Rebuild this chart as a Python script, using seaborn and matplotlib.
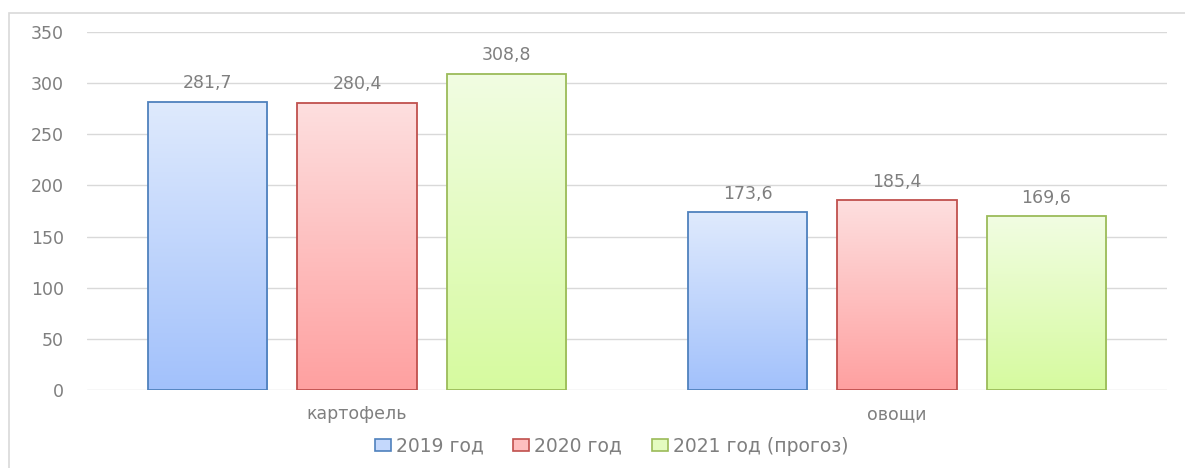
import numpy as np
import pandas as pd
import matplotlib
matplotlib.use("Agg")
import matplotlib.pyplot as plt
import seaborn as sns
from matplotlib.colors import LinearSegmentedColormap
from matplotlib.patches import Rectangle

# Data
categories = ['картофель', 'овощи']
years = ['2019 год', '2020 год', '2021 год (прогоз)']
values_2019 = [281.7, 173.6]
values_2020 = [280.4, 185.4]
values_2021 = [308.8, 169.6]
y_ticks = [0, 50, 100, 150, 200, 250, 300, 350]

# gradient top / bottom colours and edges per series
grad_top = ['#dfeafd', '#fddfdf', '#f1fde2']
grad_bottom = ['#a2c1fb', '#ffa0a0', '#d6fa9f']
legend_fill = ['#c4d8fc', '#febfbf', '#e4fbc0']
edge_colors = ['#4f81bd', '#c0504d', '#9bbb59']
text_grey = '#7f7f7f'

df = pd.DataFrame({
    'category': categories * 3,
    'year': [years[0]] * 2 + [years[1]] * 2 + [years[2]] * 2,
    'value': values_2019 + values_2020 + values_2021,
})

sns.set_style("white")
plt.rcParams['font.family'] = ['DejaVu Sans']

fig = plt.figure(figsize=(11.85, 4.68), dpi=100)
ax = fig.add_axes([87 / 1185, 0.1667, 1080 / 1185, 0.765])

sns.barplot(data=df, x='category', y='value', hue='year', hue_order=years,
            palette=grad_bottom, width=0.83, gap=0.2, ax=ax, legend=False,
            errorbar=None, zorder=3)

ax.set_ylim(0, 350)
ax.set_yticks(y_ticks)
ax.yaxis.grid(True, color='#d9d9d9', linewidth=1.0, zorder=0)
ax.set_axisbelow(True)
for s in ax.spines.values():
    s.set_visible(False)
ax.set_xlabel('')
ax.set_ylabel('')
ax.tick_params(axis='both', length=0, labelsize=12.5, colors=text_grey)
ax.tick_params(axis='y', pad=16.5)
ax.tick_params(axis='x', pad=11)

# gradient fill over each bar
for i, container in enumerate(ax.containers):
    cmap = LinearSegmentedColormap.from_list('g%d' % i, [grad_bottom[i], grad_top[i]])
    for patch in container.patches:
        x0, y0 = patch.get_x(), patch.get_y()
        w, h = patch.get_width(), patch.get_height()
        grad = np.linspace(0, 1, 256).reshape(-1, 1)
        im = ax.imshow(grad, cmap=cmap, origin='lower', aspect='auto',
                       extent=[x0, x0 + w, y0, y0 + h], zorder=3.5)
        im.set_clip_path(patch)
        patch.set_edgecolor(edge_colors[i])
        patch.set_linewidth(1.3)
        patch.set_zorder(4)
        patch.set_facecolor('none')
    labels = [f"{v:.1f}".replace('.', ',') for v in container.datavalues]
    ax.bar_label(container, labels=labels, padding=7, fontsize=12.5, color=text_grey)

ax.set_xlim(-0.5, 1.5)
ax.set_ylim(0, 350)

# legend
handles = [Rectangle((0, 0), 1, 1, facecolor=legend_fill[i], edgecolor=edge_colors[i], linewidth=1.2)
           for i in range(3)]
fig.legend(handles, years, loc='center', bbox_to_anchor=(0.516, 0.047), ncol=3,
           frameon=False, fontsize=13.5, labelcolor=text_grey, handlelength=0.85,
           handleheight=0.55, handletextpad=0.25, columnspacing=1.6)

# outer chart border
fig.patches.append(Rectangle((9 / 1185, -0.1), 1.2, 1 - 13 / 468 + 0.1,
                             transform=fig.transFigure, fill=False,
                             edgecolor='#d9d9d9', linewidth=1.2))

fig.savefig('out.png', dpi=100)
